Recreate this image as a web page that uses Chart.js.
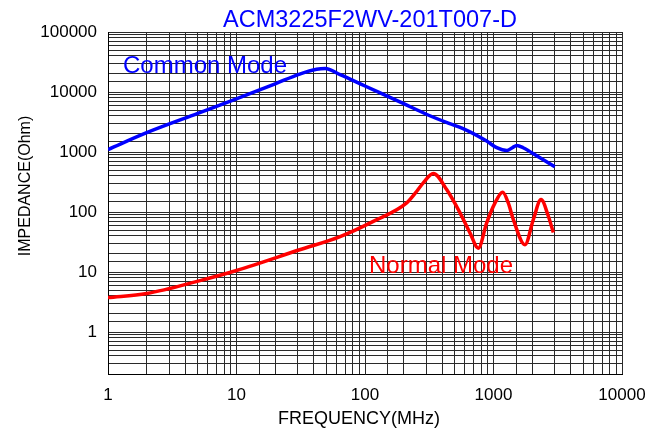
<!DOCTYPE html>
<html>
<head>
<meta charset="utf-8">
<script src="https://cdn.jsdelivr.net/npm/chart.js@4.4.1/dist/chart.umd.min.js"></script>
<style>
  html, body { margin: 0; padding: 0; background: #fff; }
  #wrap { width: 648px; height: 441px; position: relative; }
</style>
</head>
<body>
<div id="wrap"><canvas id="c" width="648" height="441"></canvas></div>
<script>
const chartTitle = "ACM3225F2WV-201T007-D";
const xTitle = "FREQUENCY(MHz)";
const yTitle = "IMPEDANCE(Ohm)";
const commonLabel = "Common Mode";
const normalLabel = "Normal Mode";

const xTickLabels = [1, 10, 100, 1000, 10000];
const yTickLabels = [1, 10, 100, 1000, 10000, 100000];

const commonFreq = [1, 2, 5, 9.4, 20, 31, 42, 49, 64, 100, 200, 300, 450, 580, 885, 1060, 1270, 1400, 1520, 1700, 2300, 3000];
const commonZ    = [1100, 2100, 4400, 7300, 13700, 19900, 24000, 24700, 19500, 12600, 6400, 4260, 3000, 2450, 1520, 1180, 1060, 1180, 1290, 1180, 800, 570];

const normalFreq = [1, 2, 5.2, 10, 31, 64, 116, 211, 253, 284, 340, 432, 549, 656, 762, 885, 1028, 1178, 1303, 1427, 1758, 2042, 2343, 2673, 2920];
const normalZ    = [3.75, 4.4, 7.2, 10.6, 23.5, 39, 70, 142, 222, 307, 439, 237, 97, 45, 25, 66, 142, 214, 142, 75, 28.5, 75, 161, 85, 45.7];

const toPts = (xs, ys) => xs.map((x, i) => ({ x: x, y: ys[i] }));
const FONT = "'Liberation Sans', Arial, sans-serif";

const textPlugin = {
  id: 'texts',
  afterDraw(chart) {
    const ctx = chart.ctx;
    ctx.save();
    ctx.textAlign = 'center';
    ctx.textBaseline = 'alphabetic';
    ctx.fillStyle = '#0000ff';
    ctx.font = "23.5px " + FONT;
    ctx.fillText(chartTitle, 370, 27);
    ctx.textAlign = 'left';
    ctx.font = "24px " + FONT;
    ctx.fillText(commonLabel, 123, 73);
    ctx.fillStyle = '#ff0000';
    ctx.fillText(normalLabel, 369, 273);
    ctx.fillStyle = '#000';
    ctx.textAlign = 'center';
    ctx.font = "18px " + FONT;
    ctx.fillText(xTitle, 359, 424);
    ctx.translate(30, 186);
    ctx.rotate(-Math.PI / 2);
    ctx.font = "16px " + FONT;
    ctx.fillText(yTitle, 0, 0);
    ctx.restore();
  }
};

new Chart(document.getElementById('c'), {
  type: 'line',
  data: {
    datasets: [
      { label: commonLabel, data: toPts(commonFreq, commonZ), borderColor: '#0000ff', borderWidth: 3.5, pointRadius: 0, cubicInterpolationMode: 'monotone', fill: false },
      { label: normalLabel, data: toPts(normalFreq, normalZ), borderColor: '#ff0000', borderWidth: 3.5, pointRadius: 0, cubicInterpolationMode: 'monotone', fill: false }
    ]
  },
  options: {
    responsive: false,
    animation: false,
    devicePixelRatio: 1,
    layout: { padding: { left: 0, top: 32, right: 26, bottom: 0 } },
    plugins: { legend: { display: false }, title: { display: false }, tooltip: { enabled: false } },
    scales: {
      x: {
        type: 'logarithmic', min: 1, max: 10000,
        grid: { color: '#2a2a2a', lineWidth: 1, drawTicks: false },
        border: { color: '#000', width: 1 },
        ticks: {
          autoSkip: false, maxRotation: 0, padding: 11, color: '#000',
          font: { family: FONT, size: 17 },
          callback: (v) => xTickLabels.includes(v) ? String(v) : ''
        },
        afterFit: (s) => { s.height = 67; s.paddingLeft = 0; s.paddingRight = 0; }
      },
      y: {
        type: 'logarithmic', min: 0.2, max: 100000,
        grid: { color: '#2a2a2a', lineWidth: 1, drawTicks: false },
        border: { color: '#000', width: 1 },
        ticks: {
          autoSkip: false, padding: 11, color: '#000',
          font: { family: FONT, size: 17 },
          callback: (v) => yTickLabels.includes(v) ? String(v) : ''
        },
        afterFit: (s) => { s.width = 108; s.paddingTop = 0; s.paddingBottom = 0; }
      }
    }
  },
  plugins: [textPlugin]
});
</script>
</body>
</html>
